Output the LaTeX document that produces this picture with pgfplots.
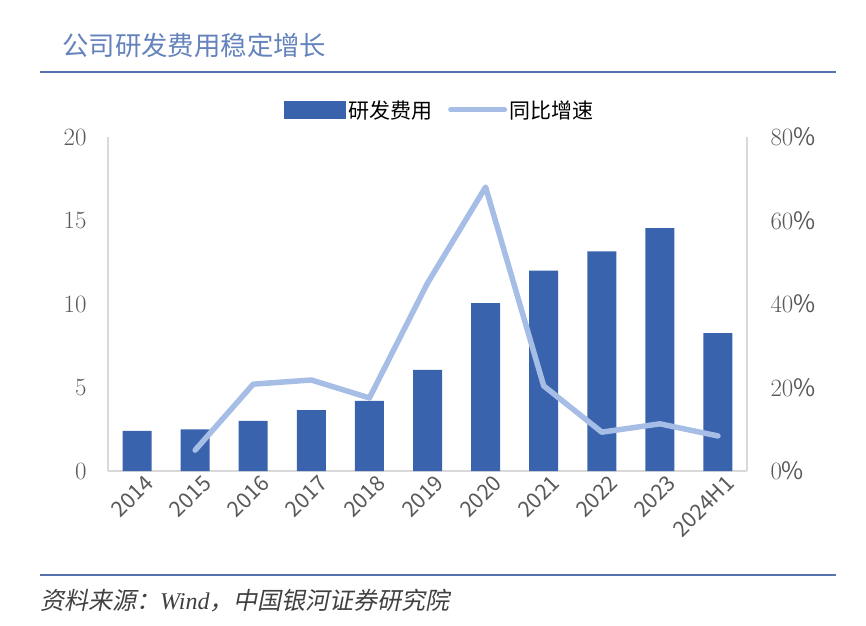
\documentclass[border=0pt]{standalone}
\usepackage{fontspec}
\setmainfont{Noto Sans CJK SC}
\newfontfamily\cjkit{Noto Sans CJK SC}[FakeSlant=0.2]
\newfontfamily\latit{Liberation Serif}
\usepackage{pgfplots}
\pgfplotsset{compat=1.18}
\definecolor{barblue}{HTML}{3A63AD}
\definecolor{linecol}{HTML}{A6BDE6}
\definecolor{titleblue}{HTML}{6482BC}
\definecolor{ruleblue}{HTML}{5673AE}
\definecolor{tickgray}{HTML}{595959}
\definecolor{axisgray}{HTML}{D9D9D9}
\definecolor{srcgray}{HTML}{404040}
\begin{document}
\begin{tikzpicture}
\path (0pt,0pt) rectangle (866pt,625pt);
\node[anchor=west, text=titleblue, font=\fontsize{26.4}{29}\selectfont, inner sep=0] at (62pt,580pt) {公司研发费用稳定增长};
\draw[ruleblue, line width=2.2pt] (40pt,553pt) -- (836pt,553pt);
\draw[ruleblue, line width=2.2pt] (40pt,50pt) -- (836pt,50pt);
\node[anchor=west, text=srcgray, font=\cjkit\fontsize{24}{26}\selectfont, inner sep=0] at (40pt,24pt) {资料来源：{\latit\itshape Wind}，中国银河证券研究院};
\begin{axis}[
  at={(108pt,154pt)}, anchor=south west,
  width=639pt, height=334pt, scale only axis,
  xmin=-0.5, xmax=10.5, ymin=0, ymax=20,
  ytick={0,5,10,15,20},
  xtick={0,...,10},
  xticklabels={2014,2015,2016,2017,2018,2019,2020,2021,2022,2023,2024H1},
  axis x line*=bottom, axis y line*=left,
  axis line style={draw=axisgray, line width=1.2pt},
  major tick length=0pt,
  yticklabel style={font=\fontsize{24}{26}\selectfont, text=tickgray, xshift=-18pt},
  xticklabel style={font=\fontsize{21.5}{24}\selectfont, text=tickgray, rotate=45, anchor=north east, yshift=-3pt, xshift=6pt},
  ybar, bar width=29pt,
  legend style={draw=none, fill=none, legend columns=2, at={(0.519,1.081)}, anchor=center,
    font=\fontsize{21}{24}\selectfont, text=black,
    /tikz/every even column/.append style={column sep=14pt}},
]
\addplot[fill=barblue, draw=none,
  legend image code/.code={\fill[barblue] (0pt,-9pt) rectangle (62pt,9pt);}]
  coordinates {(0,2.4) (1,2.5) (2,3.0) (3,3.65) (4,4.2) (5,6.05) (6,10.05) (7,12.0) (8,13.15) (9,14.55) (10,8.25)};
\addlegendentry{研发费用}
\addlegendimage{legend image code/.code={\draw[linecol, line width=5pt, line cap=round] (2pt,0pt) -- (56pt,0pt);}}
\addlegendentry{同比增速}
\end{axis}
\begin{axis}[
  at={(108pt,154pt)}, anchor=south west,
  width=639pt, height=334pt, scale only axis,
  xmin=-0.5, xmax=10.5, ymin=0, ymax=80,
  ytick={0,20,40,60,80},
  yticklabel={$\pgfmathprintnumber{\tick}\%$},
  axis x line=none, axis y line*=right,
  axis line style={draw=axisgray, line width=1.2pt},
  major tick length=0pt,
  yticklabel style={font=\fontsize{24}{26}\selectfont, text=tickgray, xshift=20pt},
]
\addplot[linecol, line width=5.5pt, line join=round, line cap=round, mark=none]
  coordinates {(1,5.0) (2,20.8) (3,21.8) (4,17.5) (5,45) (6,68) (7,20.4) (8,9.3) (9,11.3) (10,8.4)};
\end{axis}
\end{tikzpicture}
\end{document}
